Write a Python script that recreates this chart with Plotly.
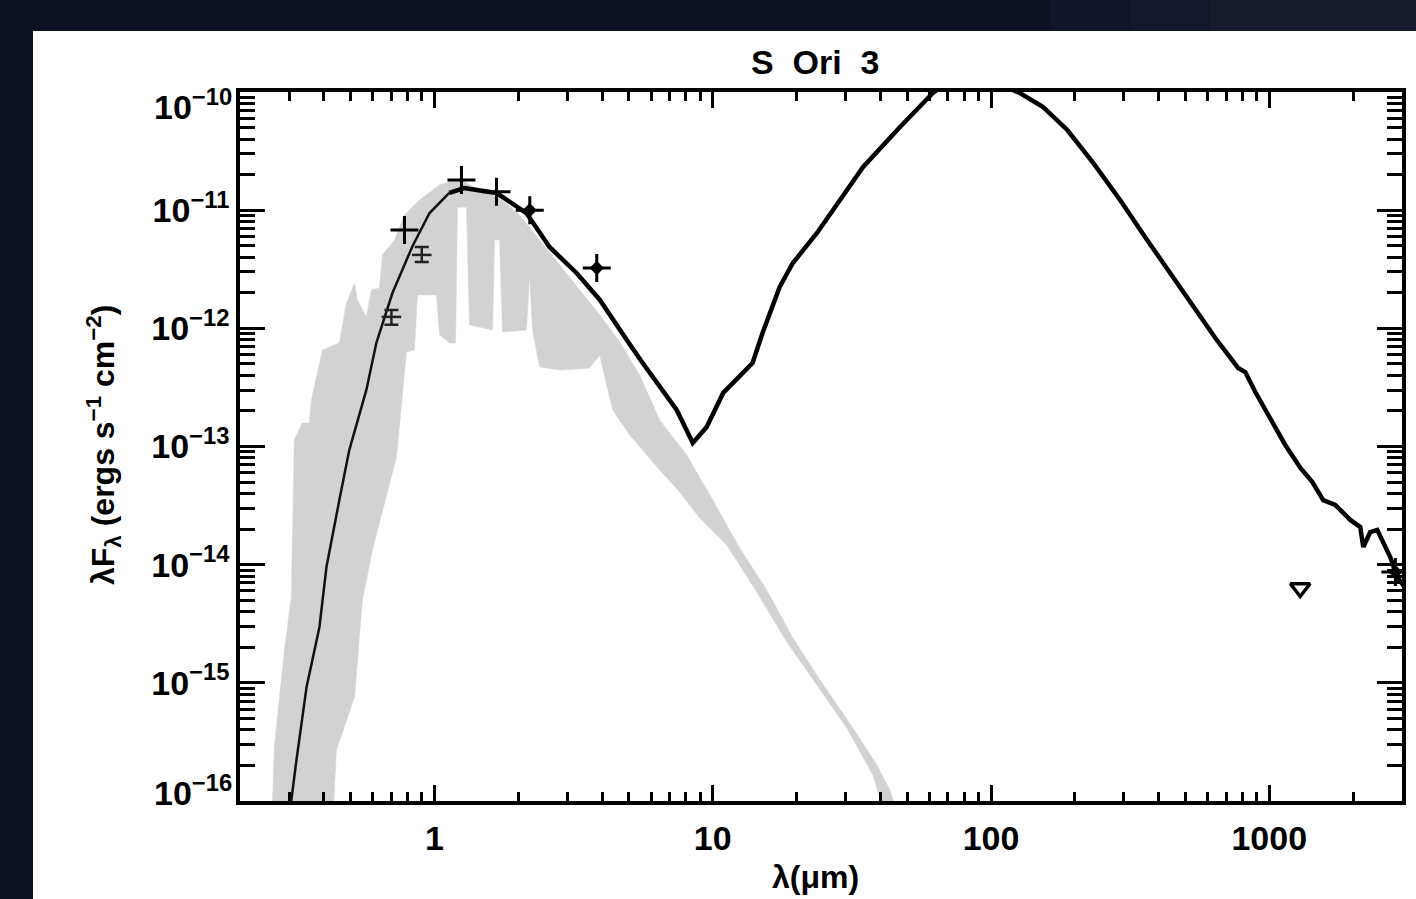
import plotly.graph_objects as go

# ---------------- data (wavelength in micron, lambda*F_lambda in erg s^-1 cm^-2) ----------------
model_wl = [0.298, 0.306, 0.319, 0.347, 0.386, 0.409, 0.455, 0.494, 0.569, 0.618, 0.706, 0.834,
            0.960, 1.13, 1.28, 1.42, 1.67, 2.14, 2.59, 3.24, 3.93, 4.91, 5.60, 7.42, 8.48, 9.51,
            10.9, 13.9, 15.1, 17.4, 19.4, 23.7, 34.7, 47.1, 61.8, 71.2, 84.0, 99.1, 112, 127,
            154, 188, 233, 291, 364, 507, 640, 773, 820, 891, 1009, 1142, 1294, 1429, 1563,
            1726, 1845, 1955, 2124, 2177, 2307, 2444, 2722, 2884, 3083]
model_flux = [5.69e-17, 1.02e-16, 2.22e-16, 9.23e-16, 2.97e-15, 9.55e-15, 3.52e-14, 9.33e-14,
              3.01e-13, 7.52e-13, 1.99e-12, 4.98e-12, 9.46e-12, 1.40e-11, 1.54e-11, 1.48e-11,
              1.40e-11, 9.46e-12, 4.88e-12, 2.94e-12, 1.74e-12, 7.96e-13, 5.09e-13, 2.04e-13,
              1.07e-13, 1.46e-13, 2.84e-13, 5.09e-13, 9.14e-13, 2.24e-12, 3.57e-12, 6.41e-12,
              2.32e-11, 5.06e-11, 9.8e-11, 1.26e-10, 1.37e-10, 1.26e-10, 1.12e-10, 9.8e-11,
              7.46e-11, 4.77e-11, 2.51e-11, 1.22e-11, 5.60e-12, 1.84e-12, 8.28e-13, 4.62e-13,
              4.27e-13, 2.89e-13, 1.74e-13, 1.03e-13, 6.58e-14, 5.01e-14, 3.52e-14, 3.20e-14,
              2.74e-14, 2.39e-14, 2.08e-14, 1.41e-14, 1.89e-14, 1.97e-14, 1.16e-14, 7.87e-15,
              6.35e-15]

# photospheric spectrum (grey band): upper envelope, then lower envelope
phot_upper_wl = [0.2593, 0.2658, 0.2887, 0.3059, 0.3136, 0.3351, 0.3551, 0.3610, 0.3956, 0.4552,
                 0.4826, 0.5158, 0.5284, 0.5693, 0.5934, 0.6340, 0.6501, 0.7180, 0.7800, 0.8831,
                 1.042, 1.180, 1.282, 1.452, 1.713, 2.021, 2.386, 2.816, 3.323, 3.923, 4.629,
                 5.463, 6.447, 8.062, 10.0, 12.51, 15.64, 19.40, 24.26, 31.88, 38.90, 43.31, 48.25]
phot_upper_flux = [5.69e-17, 2.86e-16, 1.90e-15, 5.33e-15, 1.14e-13, 1.58e-13, 1.58e-13, 2.48e-13,
                   6.56e-13, 7.52e-13, 1.64e-12, 2.42e-12, 1.74e-12, 1.25e-12, 2.11e-12, 2.19e-12,
                   4.18e-12, 5.60e-12, 9.10e-12, 1.22e-11, 1.63e-11, 1.80e-11, 1.73e-11, 1.48e-11,
                   1.27e-11, 9.10e-12, 5.60e-12, 3.44e-12, 2.11e-12, 1.30e-12, 7.66e-13, 4.03e-13,
                   1.67e-13, 8.47e-14, 3.52e-14, 1.38e-14, 6.11e-15, 2.40e-15, 1.06e-15, 4.15e-16,
                   2.02e-16, 1.24e-16, 5.69e-17]
phot_lower_wl = [43.31, 37.63, 30.34, 23.66, 18.46, 14.39, 11.23, 8.980, 7.608, 6.447, 5.028,
                 4.369, 3.923, 3.610, 2.816, 2.386, 2.252, 2.196, 2.142, 1.756, 1.713, 1.644,
                 1.617, 1.336, 1.303, 1.210, 1.190, 1.132, 1.042, 1.017, 0.8686, 0.8474, 0.7930,
                 0.7301, 0.5984, 0.5508, 0.5158, 0.4441, 0.4297]
phot_lower_flux = [5.69e-17, 1.66e-16, 4.15e-16, 9.60e-16, 2.22e-15, 5.87e-15, 1.47e-14, 2.48e-14,
                   4.12e-14, 6.33e-14, 1.25e-13, 2.04e-13, 5.94e-13, 4.61e-13, 4.44e-13, 4.71e-13,
                   9.68e-13, 2.82e-12, 9.68e-13, 9.31e-13, 5.60e-12, 5.60e-12, 9.68e-13, 1.07e-12,
                   1.06e-11, 1.06e-11, 7.52e-13, 7.52e-13, 8.79e-13, 1.91e-12, 1.91e-12, 6.56e-13,
                   6.31e-13, 8.15e-14, 1.33e-14, 5.02e-15, 7.59e-16, 2.70e-16, 5.69e-17]

# photometry
det_wl = [0.78, 1.25, 1.67, 2.20, 3.83, 2840]
det_flux = [6.8e-12, 1.80e-11, 1.43e-11, 1.0e-11, 3.24e-12, 8.67e-15]
bold_wl = [2.20, 3.83, 2840]
bold_flux = [1.0e-11, 3.24e-12, 8.67e-15]
err_wl = [0.70, 0.90]
err_flux = [1.25e-12, 4.18e-12]
err_hi = [0.18e-12, 0.70e-12]
err_lo = [0.18e-12, 0.54e-12]
lim_wl = [1292]
lim_flux = [6.35e-15]

x_ticks = [1, 10, 100, 1000]
x_ticktext = ["1", "10", "100", "1000"]
y_exps = [-16, -15, -14, -13, -12, -11, -10]

# ---------------- figure ----------------
W, H = 1416, 899
L, R, T, B = 240, 14, 92, 98
pw, ph = W - L - R, H - T - B


def px(xp):
    return (xp - L) / pw


def py(yp):
    return (H - B - yp) / ph


FONT = "Liberation Sans, Arial, sans-serif"
TICKFONT = dict(family=FONT, size=34, color="black", weight="bold")
fig = go.Figure()

fig.add_trace(go.Scatter(
    x=phot_upper_wl + phot_lower_wl, y=phot_upper_flux + phot_lower_flux,
    mode="lines", fill="toself", fillcolor="#d2d2d2", line=dict(width=0.5, color="#d2d2d2"),
    hoverinfo="skip", showlegend=False))

n_thin = 13
fig.add_trace(go.Scatter(x=model_wl[:n_thin + 1], y=model_flux[:n_thin + 1], mode="lines",
                         line=dict(color="#111111", width=2.5), showlegend=False))
fig.add_trace(go.Scatter(x=model_wl[n_thin:], y=model_flux[n_thin:], mode="lines",
                         line=dict(color="black", width=4.5), showlegend=False))

fig.add_trace(go.Scatter(x=det_wl, y=det_flux, mode="markers",
                         marker=dict(symbol="cross-thin", size=20, color="black",
                                     line=dict(width=3, color="black")), showlegend=False))
fig.add_trace(go.Scatter(x=bold_wl, y=bold_flux, mode="markers",
                         marker=dict(symbol="diamond", size=11, color="black"), showlegend=False))
fig.add_trace(go.Scatter(x=err_wl, y=err_flux, mode="markers",
                         error_y=dict(type="data", symmetric=False, array=err_hi, arrayminus=err_lo,
                                      color="#222222", thickness=2.5, width=7),
                         marker=dict(symbol="line-ew", size=14, color="#222222",
                                     line=dict(width=2.5, color="#222222")), showlegend=False))
fig.add_trace(go.Scatter(x=lim_wl, y=lim_flux, mode="markers",
                         marker=dict(symbol="triangle-down-open", size=17, color="black",
                                     line=dict(width=3.5, color="black")), showlegend=False))

x_minor = [a * 10 ** e for e in (-1, 0, 1, 2) for a in range(2, 10)] + [2000, 3000]
y_minor = [a * 10.0 ** e for e in range(-16, -10) for a in range(2, 10)]

axis_common = dict(showline=True, linewidth=3.5, linecolor="black", mirror="ticks",
                   ticks="inside", tickwidth=3, tickcolor="black", showgrid=False,
                   zeroline=False, automargin=False, tickfont=TICKFONT)

y_labels = ["10<sup>\u2212%d</sup>" % (-e) for e in y_exps]

fig.update_xaxes(type="log", range=[-0.699, 3.4771], tickmode="array", tickvals=x_ticks,
                 ticktext=x_ticktext, ticklen=16, ticklabelstandoff=4,
                 minor=dict(ticks="inside", ticklen=9, tickwidth=3, tickcolor="black",
                            tickmode="array", tickvals=x_minor, showgrid=False),
                 **axis_common)
# end labels are drawn kept inside the axis span (as in the original), the rest on the ticks
fig.update_yaxes(type="log", range=[-16, -10], tickmode="array",
                 tickvals=[10.0 ** e for e in y_exps],
                 ticktext=[""] + y_labels[1:-1] + [""],
                 ticklen=25, ticklabelstandoff=0,
                 minor=dict(ticks="inside", ticklen=15, tickwidth=3, tickcolor="black",
                            tickmode="array", tickvals=y_minor, showgrid=False),
                 **axis_common)

# dark frame around the white figure
frame = "#0d1124"
shapes = [
    dict(type="rect", xref="paper", yref="paper", x0=px(0), x1=px(W), y0=py(31), y1=py(0),
         fillcolor=frame, line=dict(width=0), layer="above"),
    dict(type="rect", xref="paper", yref="paper", x0=px(0), x1=px(33), y0=py(H), y1=py(0),
         fillcolor=frame, line=dict(width=0), layer="above"),
]
for x0, x1, c in [(1050, 1130, "#101428"), (1130, 1210, "#13172b"), (1210, W, "#171b2e")]:
    shapes.append(dict(type="rect", xref="paper", yref="paper", x0=px(x0), x1=px(x1),
                       y0=py(31), y1=py(0), fillcolor=c, line=dict(width=0), layer="above"))

annotations = [
    dict(text="S  Ori  3", x=px(815), y=py(62), xref="paper", yref="paper", showarrow=False,
         xanchor="center", yanchor="middle",
         font=dict(family=FONT, size=34, color="black", weight="bold")),
    dict(text="\u03bb(\u03bcm)", x=px(815), y=py(877), xref="paper", yref="paper", showarrow=False,
         xanchor="center", yanchor="middle",
         font=dict(family=FONT, size=32, color="black", weight="bold")),
    dict(text="\u03bbF<sub>\u03bb</sub> (ergs s<sup>\u22121</sup> cm<sup>\u22122</sup>)",
         x=px(103), y=py(445), xref="paper", yref="paper", showarrow=False, textangle=-90,
         xanchor="center", yanchor="middle",
         font=dict(family=FONT, size=32, color="black", weight="bold")),
    dict(text=y_labels[-1], x=0, xref="paper", y=y_exps[-1], yref="y", showarrow=False,
         xanchor="right", yanchor="middle", xshift=-6, yshift=-12, font=TICKFONT),
    dict(text=y_labels[0], x=0, xref="paper", y=y_exps[0], yref="y", showarrow=False,
         xanchor="right", yanchor="middle", xshift=-6, yshift=11, font=TICKFONT),
]

fig.update_layout(width=W, height=H, autosize=False,
                  margin=dict(l=L, r=R, t=T, b=B, pad=0),
                  paper_bgcolor="white", plot_bgcolor="white",
                  shapes=shapes, annotations=annotations, showlegend=False)

fig.write_html("out.html", config={"displayModeBar": False},
               post_script="document.body.style.margin='0';document.body.style.overflow='hidden';")
